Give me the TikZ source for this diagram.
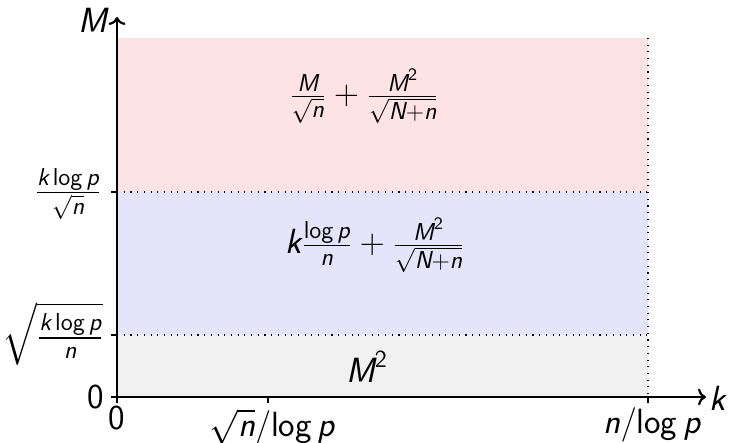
\documentclass[tikz,border=0pt]{standalone}
\usepackage{amsmath}
\usepackage{fontspec}
\usetikzlibrary{arrows.meta}
\newcommand\sv[1]{\textsf{\slshape #1}}
\newcommand\slog{\mathop{\textsf{log}}\nolimits}
\newcommand\slogb{\textsf{log}\,}
\newcommand\stwo{\textsf{2}}
\definecolor{regpink}{RGB}{253,227,227}
\definecolor{regblue}{RGB}{228,228,251}
\definecolor{reggray}{RGB}{241,241,241}
\begin{document}
\begin{tikzpicture}[x=0.5pt,y=-0.5pt,
  lbl/.style={inner sep=1pt,font=\fontsize{17.5}{21}\selectfont},
  axisline/.style={line width=1.1pt,-{To[length=4pt,width=8.5pt,line width=1.1pt]}},
  tickline/.style={line width=0.7pt},
  guide/.style={line width=0.55pt,dash pattern=on 0.55pt off 2.8pt}]
\useasboundingbox (0,0) rectangle (729,443);
% regions
\fill[regpink] (117,38) rectangle (648,192);
\fill[regblue] (117,192) rectangle (648,335);
\fill[reggray] (117,335) rectangle (648,397);
% guides
\coordinate (O) at (117,397);
\coordinate (Xend) at (706,397);
\coordinate (Yend) at (117,17);
\coordinate (Ha) at (117,192);
\coordinate (Hb) at (117,335);
\coordinate (Ha2) at (648,192);
\coordinate (Hb2) at (648,335);
\coordinate (Vt) at (648,38);
\coordinate (Vb) at (648,397);
\draw[guide] (Ha) -- (Ha2);
\draw[guide] (Hb) -- (Hb2);
\draw[guide] (Vt) -- (Vb);
% axes
\draw[axisline] (O) -- (Xend);
\draw[axisline] (O) -- (Yend);
% ticks
\coordinate (Ta) at (268,397);
\coordinate (Ta2) at (268,403);
\coordinate (Tb) at (648,397);
\coordinate (Tb2) at (648,403);
\coordinate (T0) at (117,403);
\coordinate (Ty0) at (111,397);
\coordinate (Tya) at (111,192);
\coordinate (Tyb) at (111,335);
\draw[tickline] (Ta) -- (Ta2);
\draw[tickline] (Tb) -- (Tb2);
\draw[tickline] (O) -- (T0);
\draw[tickline] (O) -- (Ty0);
\draw[tickline] (Ha) -- (Tya);
\draw[tickline] (Hb) -- (Tyb);
% axis labels
\node[lbl] (Mlab) at (93,20) {$\sv{M}$};
\node[lbl] (klab) at (718,398) {$\sv{k}$};
\node[lbl] (y0) at (96,397) {$\textsf{0}$};
\node[lbl] (x0) at (117,418) {$\textsf{0}$};
\node[lbl] (xa) at (272,427) {$\sqrt{\sv{n}}/\slogb\sv{p}$};
\node[lbl] (xb) at (652,425) {$\sv{n}/\slogb\sv{p}$};
\node[lbl] (ya) at (68,194) {$\frac{\sv{k}\slog\sv{p}}{\sqrt{\sv{n}}}$};
\node[lbl] (yb) at (53,334) {$\sqrt{\frac{\sv{k}\slog\sv{p}}{\sv{n}}}$};
% region labels
\node[lbl] (rtop) at (364,96) {$\frac{\sv{M}}{\sqrt{\sv{n}}}+\frac{\sv{M}^{\stwo}}{\sqrt{\sv{N}+\sv{n}}}$};
\node[lbl] (rmid) at (375,245) {$\sv{k}\frac{\slog\sv{p}}{\sv{n}}+\frac{\sv{M}^{\stwo}}{\sqrt{\sv{N}+\sv{n}}}$};
\node[lbl] (rbot) at (367,367) {$\sv{M}^{\stwo}$};
\end{tikzpicture}
\end{document}
